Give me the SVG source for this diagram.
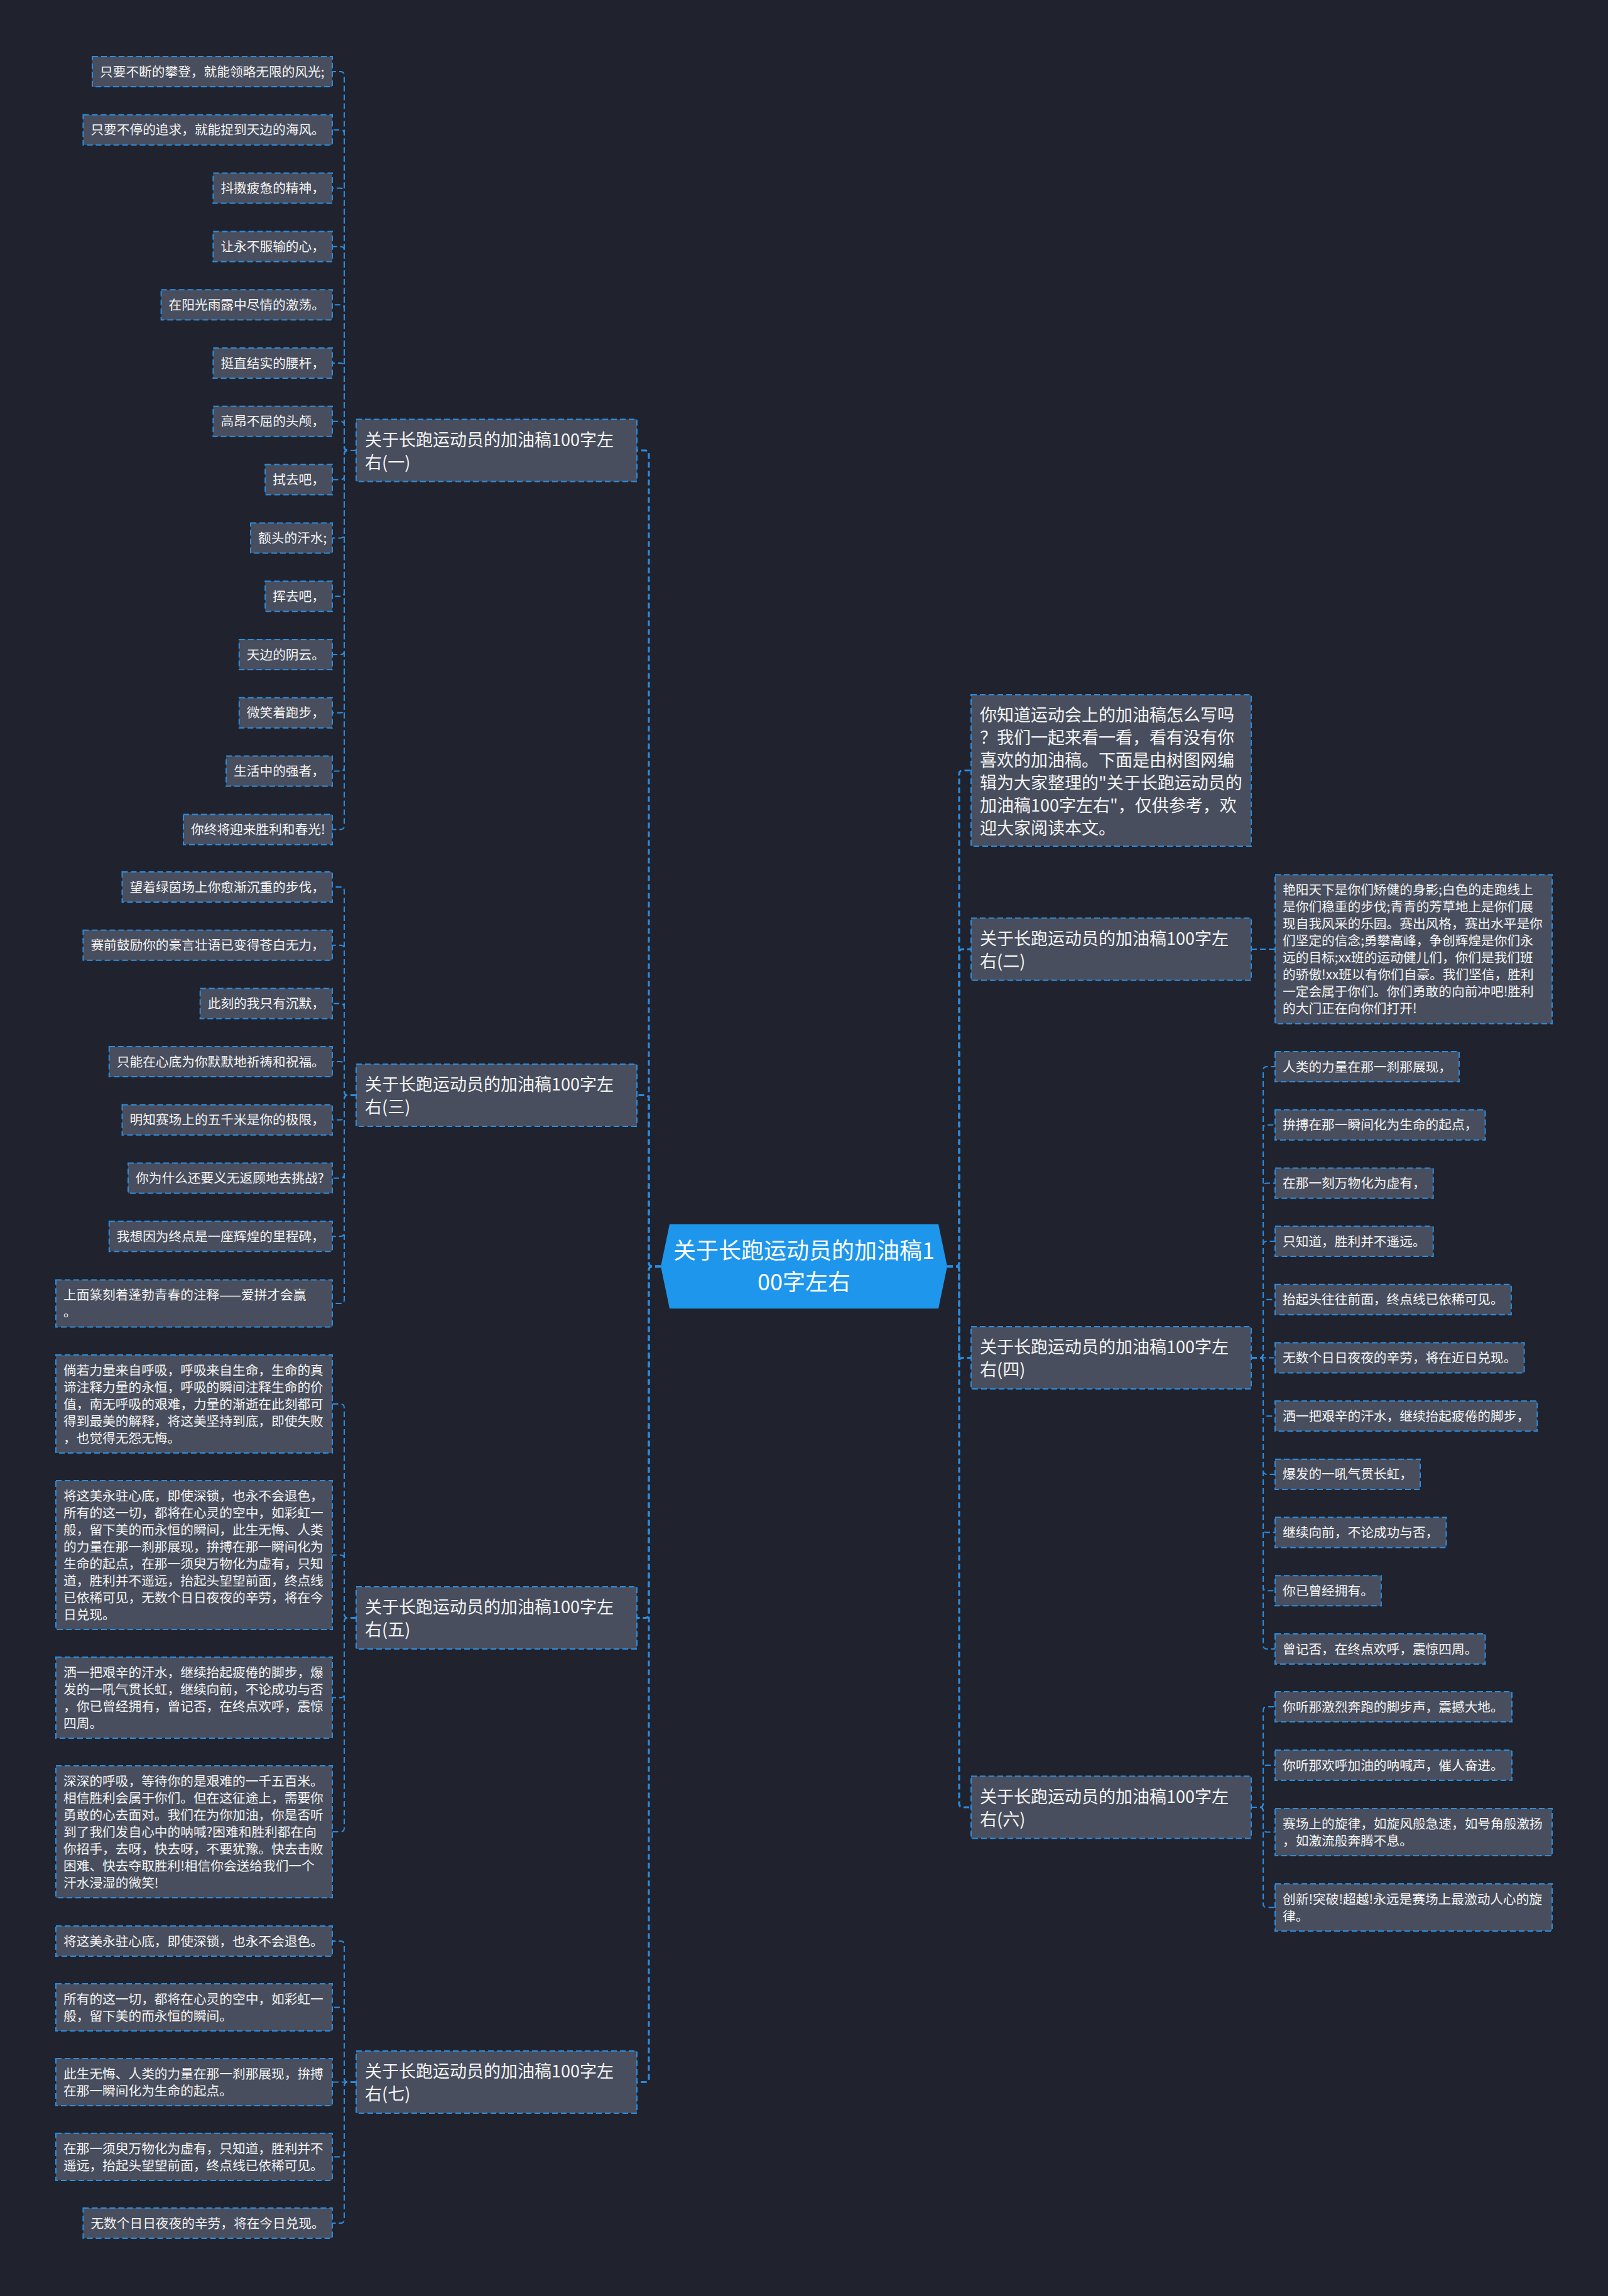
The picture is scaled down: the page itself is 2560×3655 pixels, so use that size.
<svg xmlns="http://www.w3.org/2000/svg" width="2560" height="3655" viewBox="0 0 2560 3655">
<style>
.bg{fill:#20232e}
.box{fill:#484e5d;stroke:#2b8de0;stroke-width:2;stroke-dasharray:9 5}
.lt{fill:#f4f4f4;font-family:'Noto Sans CJK SC','Noto Sans',sans-serif;font-size:20.7px}
.bt{fill:#f4f4f4;font-family:'Noto Sans CJK SC','Noto Sans',sans-serif;font-size:27px}
.rt{fill:#ffffff;font-family:'Noto Sans CJK SC','Noto Sans',sans-serif;font-size:36px;text-anchor:middle}
.c{fill:none;stroke:#2b8de0;stroke-width:2;stroke-dasharray:9 5}
.c0{fill:none;stroke:#2b8de0;stroke-width:3;stroke-dasharray:9 5}
</style>
<rect class="bg" x="0" y="0" width="2560" height="3655"/>
<g id="connectors">
<path class="c0" d="M1052 2016 H1039 Q1033 2016 1033 2010 V723 Q1033 717 1027 717 H1014"/>
<path class="c0" d="M1052 2016 H1039 Q1033 2016 1033 2010 V1749.5 Q1033 1743.5 1027 1743.5 H1014"/>
<path class="c0" d="M1052 2016 H1039 Q1033 2016 1033 2022 V2569.5 Q1033 2575.5 1027 2575.5 H1014"/>
<path class="c0" d="M1052 2016 H1039 Q1033 2016 1033 2022 V3308.5 Q1033 3314.5 1027 3314.5 H1014"/>
<path class="c0" d="M1508 2016 H1521 Q1527 2016 1527 2010 V1232.5 Q1527 1226.5 1533 1226.5 H1546"/>
<path class="c0" d="M1508 2016 H1521 Q1527 2016 1527 2010 V1517 Q1527 1511 1533 1511 H1546"/>
<path class="c0" d="M1508 2016 H1521 Q1527 2016 1527 2010 V2167.5 Q1527 2161.5 1533 2161.5 H1546"/>
<path class="c0" d="M1508 2016 H1521 Q1527 2016 1527 2022 V2871 Q1527 2877 1533 2877 H1546"/>
<path class="c" d="M567 717 H554 Q548 717 548 711 V120 Q548 114 542 114 H529"/>
<path class="c" d="M567 717 H554 Q548 717 548 711 V212.8 Q548 206.8 542 206.8 H529"/>
<path class="c" d="M567 717 H554 Q548 717 548 711 V305.6 Q548 299.6 542 299.6 H529"/>
<path class="c" d="M567 717 H554 Q548 717 548 711 V398.4 Q548 392.4 542 392.4 H529"/>
<path class="c" d="M567 717 H554 Q548 717 548 711 V491.2 Q548 485.2 542 485.2 H529"/>
<path class="c" d="M567 717 H554 Q548 717 548 711 V584 Q548 578 542 578 H529"/>
<path class="c" d="M567 717 H554 Q548 717 548 711 V676.8 Q548 670.8 542 670.8 H529"/>
<path class="c" d="M567 717 H554 Q548 717 548 723 V757.6 Q548 763.6 542 763.6 H529"/>
<path class="c" d="M567 717 H554 Q548 717 548 723 V850.4 Q548 856.4 542 856.4 H529"/>
<path class="c" d="M567 717 H554 Q548 717 548 723 V943.2 Q548 949.2 542 949.2 H529"/>
<path class="c" d="M567 717 H554 Q548 717 548 723 V1036 Q548 1042 542 1042 H529"/>
<path class="c" d="M567 717 H554 Q548 717 548 723 V1128.8 Q548 1134.8 542 1134.8 H529"/>
<path class="c" d="M567 717 H554 Q548 717 548 723 V1221.6 Q548 1227.6 542 1227.6 H529"/>
<path class="c" d="M567 717 H554 Q548 717 548 723 V1314.4 Q548 1320.4 542 1320.4 H529"/>
<path class="c" d="M567 1743.5 H554 Q548 1743.5 548 1737.5 V1418 Q548 1412 542 1412 H529"/>
<path class="c" d="M567 1743.5 H554 Q548 1743.5 548 1737.5 V1510.7 Q548 1504.7 542 1504.7 H529"/>
<path class="c" d="M567 1743.5 H554 Q548 1743.5 548 1737.5 V1603.4 Q548 1597.4 542 1597.4 H529"/>
<path class="c" d="M567 1743.5 H554 Q548 1743.5 548 1737.5 V1696.1 Q548 1690.1 542 1690.1 H529"/>
<path class="c" d="M567 1743.5 H554 Q548 1743.5 548 1749.5 V1776.8 Q548 1782.8 542 1782.8 H529"/>
<path class="c" d="M567 1743.5 H554 Q548 1743.5 548 1749.5 V1869.5 Q548 1875.5 542 1875.5 H529"/>
<path class="c" d="M567 1743.5 H554 Q548 1743.5 548 1749.5 V1962.2 Q548 1968.2 542 1968.2 H529"/>
<path class="c" d="M567 1743.5 H554 Q548 1743.5 548 1749.5 V2069 Q548 2075 542 2075 H529"/>
<path class="c" d="M567 2575.5 H554 Q548 2575.5 548 2569.5 V2241 Q548 2235 542 2235 H529"/>
<path class="c" d="M567 2575.5 H554 Q548 2575.5 548 2569.5 V2481.5 Q548 2475.5 542 2475.5 H529"/>
<path class="c" d="M567 2575.5 H554 Q548 2575.5 548 2581.5 V2696.5 Q548 2702.5 542 2702.5 H529"/>
<path class="c" d="M567 2575.5 H554 Q548 2575.5 548 2581.5 V2910 Q548 2916 542 2916 H529"/>
<path class="c" d="M567 3314.5 H554 Q548 3314.5 548 3308.5 V3096 Q548 3090 542 3090 H529"/>
<path class="c" d="M567 3314.5 H554 Q548 3314.5 548 3308.5 V3201.5 Q548 3195.5 542 3195.5 H529"/>
<path class="c" d="M567 3314.5 H529"/>
<path class="c" d="M567 3314.5 H554 Q548 3314.5 548 3320.5 V3427.5 Q548 3433.5 542 3433.5 H529"/>
<path class="c" d="M567 3314.5 H554 Q548 3314.5 548 3320.5 V3533 Q548 3539 542 3539 H529"/>
<path class="c" d="M1992 1511 H2030"/>
<path class="c" d="M1992 2161.5 H2005 Q2011 2161.5 2011 2155.5 V1704 Q2011 1698 2017 1698 H2030"/>
<path class="c" d="M1992 2161.5 H2005 Q2011 2161.5 2011 2155.5 V1796.7 Q2011 1790.7 2017 1790.7 H2030"/>
<path class="c" d="M1992 2161.5 H2005 Q2011 2161.5 2011 2155.5 V1889.4 Q2011 1883.4 2017 1883.4 H2030"/>
<path class="c" d="M1992 2161.5 H2005 Q2011 2161.5 2011 2155.5 V1982.1 Q2011 1976.1 2017 1976.1 H2030"/>
<path class="c" d="M1992 2161.5 H2005 Q2011 2161.5 2011 2155.5 V2074.8 Q2011 2068.8 2017 2068.8 H2030"/>
<path class="c" d="M1992 2161.5 H2030"/>
<path class="c" d="M1992 2161.5 H2005 Q2011 2161.5 2011 2167.5 V2248.2 Q2011 2254.2 2017 2254.2 H2030"/>
<path class="c" d="M1992 2161.5 H2005 Q2011 2161.5 2011 2167.5 V2340.9 Q2011 2346.9 2017 2346.9 H2030"/>
<path class="c" d="M1992 2161.5 H2005 Q2011 2161.5 2011 2167.5 V2433.6 Q2011 2439.6 2017 2439.6 H2030"/>
<path class="c" d="M1992 2161.5 H2005 Q2011 2161.5 2011 2167.5 V2526.3 Q2011 2532.3 2017 2532.3 H2030"/>
<path class="c" d="M1992 2161.5 H2005 Q2011 2161.5 2011 2167.5 V2619 Q2011 2625 2017 2625 H2030"/>
<path class="c" d="M1992 2877 H2005 Q2011 2877 2011 2871 V2723 Q2011 2717 2017 2717 H2030"/>
<path class="c" d="M1992 2877 H2005 Q2011 2877 2011 2871 V2816 Q2011 2810 2017 2810 H2030"/>
<path class="c" d="M1992 2877 H2005 Q2011 2877 2011 2883 V2910.5 Q2011 2916.5 2017 2916.5 H2030"/>
<path class="c" d="M1992 2877 H2005 Q2011 2877 2011 2883 V3030.5 Q2011 3036.5 2017 3036.5 H2030"/>
</g>
<g id="root">
<polygon points="1066,1949 1494,1949 1508,2016 1494,2083 1066,2083 1052,2016" fill="#1e96eb"/>
<text class="rt"><tspan x="1280" y="2004">关于长跑运动员的加油稿1</tspan><tspan x="1280" y="2054">00字左右</tspan></text>
</g>
<g id="b1">
<rect class="box" x="567" y="667.5" width="447" height="99"/>
<text class="bt"><tspan x="581" y="709.5">关于长跑运动员的加油稿100字左</tspan><tspan x="581" y="745.5">右(一)</tspan></text>
</g>
<g id="b3">
<rect class="box" x="567" y="1694" width="447" height="99"/>
<text class="bt"><tspan x="581" y="1736">关于长跑运动员的加油稿100字左</tspan><tspan x="581" y="1772">右(三)</tspan></text>
</g>
<g id="b5">
<rect class="box" x="567" y="2526" width="447" height="99"/>
<text class="bt"><tspan x="581" y="2568">关于长跑运动员的加油稿100字左</tspan><tspan x="581" y="2604">右(五)</tspan></text>
</g>
<g id="b7">
<rect class="box" x="567" y="3265" width="447" height="99"/>
<text class="bt"><tspan x="581" y="3307">关于长跑运动员的加油稿100字左</tspan><tspan x="581" y="3343">右(七)</tspan></text>
</g>
<g id="intro">
<rect class="box" x="1546" y="1106" width="446" height="241"/>
<text class="bt"><tspan x="1560" y="1148">你知道运动会上的加油稿怎么写吗</tspan><tspan x="1560" y="1184">？我们一起来看一看，看有没有你</tspan><tspan x="1560" y="1220">喜欢的加油稿。下面是由树图网编</tspan><tspan x="1560" y="1256">辑为大家整理的"关于长跑运动员的</tspan><tspan x="1560" y="1292">加油稿100字左右"，仅供参考，欢</tspan><tspan x="1560" y="1328">迎大家阅读本文。</tspan></text>
</g>
<g id="b2">
<rect class="box" x="1546" y="1461.5" width="446" height="99"/>
<text class="bt"><tspan x="1560" y="1503.5">关于长跑运动员的加油稿100字左</tspan><tspan x="1560" y="1539.5">右(二)</tspan></text>
</g>
<g id="b4">
<rect class="box" x="1546" y="2112" width="446" height="99"/>
<text class="bt"><tspan x="1560" y="2154">关于长跑运动员的加油稿100字左</tspan><tspan x="1560" y="2190">右(四)</tspan></text>
</g>
<g id="b6">
<rect class="box" x="1546" y="2827.5" width="446" height="99"/>
<text class="bt"><tspan x="1560" y="2869.5">关于长跑运动员的加油稿100字左</tspan><tspan x="1560" y="2905.5">右(六)</tspan></text>
</g>
<g id="l1-1"><rect class="box" x="147" y="90" width="382" height="48"/><text class="lt" x="159" y="121.5">只要不断的攀登，就能领略无限的风光;</text></g>
<g id="l1-2"><rect class="box" x="132.4" y="182.8" width="396.6" height="48"/><text class="lt" x="144.4" y="214.3">只要不停的追求，就能捉到天边的海风。</text></g>
<g id="l1-3"><rect class="box" x="339.4" y="275.6" width="189.6" height="48"/><text class="lt" x="351.4" y="307.1">抖擞疲惫的精神，</text></g>
<g id="l1-4"><rect class="box" x="339.4" y="368.4" width="189.6" height="48"/><text class="lt" x="351.4" y="399.9">让永不服输的心，</text></g>
<g id="l1-5"><rect class="box" x="256.6" y="461.2" width="272.4" height="48"/><text class="lt" x="268.6" y="492.7">在阳光雨露中尽情的激荡。</text></g>
<g id="l1-6"><rect class="box" x="339.4" y="554" width="189.6" height="48"/><text class="lt" x="351.4" y="585.5">挺直结实的腰杆，</text></g>
<g id="l1-7"><rect class="box" x="339.4" y="646.8" width="189.6" height="48"/><text class="lt" x="351.4" y="678.3">高昂不屈的头颅，</text></g>
<g id="l1-8"><rect class="box" x="422.2" y="739.6" width="106.8" height="48"/><text class="lt" x="434.2" y="771.1">拭去吧，</text></g>
<g id="l1-9"><rect class="box" x="399" y="832.4" width="130" height="48"/><text class="lt" x="411" y="863.9">额头的汗水;</text></g>
<g id="l1-10"><rect class="box" x="422.2" y="925.2" width="106.8" height="48"/><text class="lt" x="434.2" y="956.7">挥去吧，</text></g>
<g id="l1-11"><rect class="box" x="380.8" y="1018" width="148.2" height="48"/><text class="lt" x="392.8" y="1049.5">天边的阴云。</text></g>
<g id="l1-12"><rect class="box" x="380.8" y="1110.8" width="148.2" height="48"/><text class="lt" x="392.8" y="1142.3">微笑着跑步，</text></g>
<g id="l1-13"><rect class="box" x="360.1" y="1203.6" width="168.9" height="48"/><text class="lt" x="372.1" y="1235.1">生活中的强者，</text></g>
<g id="l1-14"><rect class="box" x="292" y="1296.4" width="237" height="48"/><text class="lt" x="304" y="1327.9">你终将迎来胜利和春光!</text></g>
<g id="l3-1"><rect class="box" x="194.5" y="1388" width="334.5" height="48"/><text class="lt" x="206.5" y="1419.5">望着绿茵场上你愈渐沉重的步伐，</text></g>
<g id="l3-2"><rect class="box" x="132.4" y="1480.7" width="396.6" height="48"/><text class="lt" x="144.4" y="1512.2">赛前鼓励你的豪言壮语已变得苍白无力，</text></g>
<g id="l3-3"><rect class="box" x="318.7" y="1573.4" width="210.3" height="48"/><text class="lt" x="330.7" y="1604.9">此刻的我只有沉默，</text></g>
<g id="l3-4"><rect class="box" x="173.8" y="1666.1" width="355.2" height="48"/><text class="lt" x="185.8" y="1697.6">只能在心底为你默默地祈祷和祝福。</text></g>
<g id="l3-5"><rect class="box" x="194.5" y="1758.8" width="334.5" height="48"/><text class="lt" x="206.5" y="1790.3">明知赛场上的五千米是你的极限，</text></g>
<g id="l3-6"><rect class="box" x="204" y="1851.5" width="325" height="48"/><text class="lt" x="216" y="1883">你为什么还要义无返顾地去挑战?</text></g>
<g id="l3-7"><rect class="box" x="173.8" y="1944.2" width="355.2" height="48"/><text class="lt" x="185.8" y="1975.7">我想因为终点是一座辉煌的里程碑，</text></g>
<g id="l3-8"><rect class="box" x="89" y="2037.5" width="440" height="75"/><text class="lt"><tspan x="101" y="2069">上面篆刻着蓬勃青春的注释——爱拼才会赢</tspan><tspan x="101" y="2096">。</tspan></text></g>
<g id="l5-1"><rect class="box" x="89" y="2157" width="440" height="156"/><text class="lt"><tspan x="101" y="2188.5">倘若力量来自呼吸，呼吸来自生命，生命的真</tspan><tspan x="101" y="2215.5">谛注释力量的永恒，呼吸的瞬间注释生命的价</tspan><tspan x="101" y="2242.5">值，南无呼吸的艰难，力量的渐逝在此刻都可</tspan><tspan x="101" y="2269.5">得到最美的解释，将这美坚持到底，即使失败</tspan><tspan x="101" y="2296.5">，也觉得无怨无悔。</tspan></text></g>
<g id="l5-2"><rect class="box" x="89" y="2357" width="440" height="237"/><text class="lt"><tspan x="101" y="2388.5">将这美永驻心底，即使深锁，也永不会退色，</tspan><tspan x="101" y="2415.5">所有的这一切，都将在心灵的空中，如彩虹一</tspan><tspan x="101" y="2442.5">般，留下美的而永恒的瞬间，此生无悔、人类</tspan><tspan x="101" y="2469.5">的力量在那一刹那展现，拚搏在那一瞬间化为</tspan><tspan x="101" y="2496.5">生命的起点，在那一须臾万物化为虚有，只知</tspan><tspan x="101" y="2523.5">道，胜利并不遥远，抬起头望望前面，终点线</tspan><tspan x="101" y="2550.5">已依稀可见，无数个日日夜夜的辛劳，将在今</tspan><tspan x="101" y="2577.5">日兑现。</tspan></text></g>
<g id="l5-3"><rect class="box" x="89" y="2638" width="440" height="129"/><text class="lt"><tspan x="101" y="2669.5">洒一把艰辛的汗水，继续抬起疲倦的脚步，爆</tspan><tspan x="101" y="2696.5">发的一吼气贯长虹，继续向前，不论成功与否</tspan><tspan x="101" y="2723.5">，你已曾经拥有，曾记否，在终点欢呼，震惊</tspan><tspan x="101" y="2750.5">四周。</tspan></text></g>
<g id="l5-4"><rect class="box" x="89" y="2811" width="440" height="210"/><text class="lt"><tspan x="101" y="2842.5">深深的呼吸，等待你的是艰难的一千五百米。</tspan><tspan x="101" y="2869.5">相信胜利会属于你们。但在这征途上，需要你</tspan><tspan x="101" y="2896.5">勇敢的心去面对。我们在为你加油，你是否听</tspan><tspan x="101" y="2923.5">到了我们发自心中的呐喊?困难和胜利都在向</tspan><tspan x="101" y="2950.5">你招手，去呀，快去呀，不要犹豫。快去击败</tspan><tspan x="101" y="2977.5">困难、快去夺取胜利!相信你会送给我们一个</tspan><tspan x="101" y="3004.5">汗水浸湿的微笑!</tspan></text></g>
<g id="l7-1"><rect class="box" x="89" y="3066" width="440" height="48"/><text class="lt" x="101" y="3097.5">将这美永驻心底，即使深锁，也永不会退色。</text></g>
<g id="l7-2"><rect class="box" x="89" y="3158" width="440" height="75"/><text class="lt"><tspan x="101" y="3189.5">所有的这一切，都将在心灵的空中，如彩虹一</tspan><tspan x="101" y="3216.5">般，留下美的而永恒的瞬间。</tspan></text></g>
<g id="l7-3"><rect class="box" x="89" y="3277" width="440" height="75"/><text class="lt"><tspan x="101" y="3308.5">此生无悔、人类的力量在那一刹那展现，拚搏</tspan><tspan x="101" y="3335.5">在那一瞬间化为生命的起点。</tspan></text></g>
<g id="l7-4"><rect class="box" x="89" y="3396" width="440" height="75"/><text class="lt"><tspan x="101" y="3427.5">在那一须臾万物化为虚有，只知道，胜利并不</tspan><tspan x="101" y="3454.5">遥远，抬起头望望前面，终点线已依稀可见。</tspan></text></g>
<g id="l7-5"><rect class="box" x="132.4" y="3515" width="396.6" height="48"/><text class="lt" x="144.4" y="3546.5">无数个日日夜夜的辛劳，将在今日兑现。</text></g>
<g id="r2-1"><rect class="box" x="2030" y="1392.5" width="441" height="237"/><text class="lt"><tspan x="2042" y="1424">艳阳天下是你们矫健的身影;白色的走跑线上</tspan><tspan x="2042" y="1451">是你们稳重的步伐;青青的芳草地上是你们展</tspan><tspan x="2042" y="1478">现自我风采的乐园。赛出风格，赛出水平是你</tspan><tspan x="2042" y="1505">们坚定的信念;勇攀高峰，争创辉煌是你们永</tspan><tspan x="2042" y="1532">远的目标;xx班的运动健儿们，你们是我们班</tspan><tspan x="2042" y="1559">的骄傲!xx班以有你们自豪。我们坚信，胜利</tspan><tspan x="2042" y="1586">一定会属于你们。你们勇敢的向前冲吧!胜利</tspan><tspan x="2042" y="1613">的大门正在向你们打开!</tspan></text></g>
<g id="r4-1"><rect class="box" x="2030" y="1674" width="293" height="48"/><text class="lt" x="2042" y="1705.5">人类的力量在那一刹那展现，</text></g>
<g id="r4-2"><rect class="box" x="2030" y="1766.7" width="334.5" height="48"/><text class="lt" x="2042" y="1798.2">拚搏在那一瞬间化为生命的起点，</text></g>
<g id="r4-3"><rect class="box" x="2030" y="1859.4" width="251.7" height="48"/><text class="lt" x="2042" y="1890.9">在那一刻万物化为虚有，</text></g>
<g id="r4-4"><rect class="box" x="2030" y="1952.1" width="251.7" height="48"/><text class="lt" x="2042" y="1983.6">只知道，胜利并不遥远。</text></g>
<g id="r4-5"><rect class="box" x="2030" y="2044.8" width="375.9" height="48"/><text class="lt" x="2042" y="2076.3">抬起头往往前面，终点线已依稀可见。</text></g>
<g id="r4-6"><rect class="box" x="2030" y="2137.5" width="396.6" height="48"/><text class="lt" x="2042" y="2169">无数个日日夜夜的辛劳，将在近日兑现。</text></g>
<g id="r4-7"><rect class="box" x="2030" y="2230.2" width="417.3" height="48"/><text class="lt" x="2042" y="2261.7">洒一把艰辛的汗水，继续抬起疲倦的脚步，</text></g>
<g id="r4-8"><rect class="box" x="2030" y="2322.9" width="231" height="48"/><text class="lt" x="2042" y="2354.4">爆发的一吼气贯长虹，</text></g>
<g id="r4-9"><rect class="box" x="2030" y="2415.6" width="272.4" height="48"/><text class="lt" x="2042" y="2447.1">继续向前，不论成功与否，</text></g>
<g id="r4-10"><rect class="box" x="2030" y="2508.3" width="168.9" height="48"/><text class="lt" x="2042" y="2539.8">你已曾经拥有。</text></g>
<g id="r4-11"><rect class="box" x="2030" y="2601" width="334.5" height="48"/><text class="lt" x="2042" y="2632.5">曾记否，在终点欢呼，震惊四周。</text></g>
<g id="r6-1"><rect class="box" x="2030" y="2693" width="377" height="48"/><text class="lt" x="2042" y="2724.5">你听那激烈奔跑的脚步声，震撼大地。</text></g>
<g id="r6-2"><rect class="box" x="2030" y="2786" width="377" height="48"/><text class="lt" x="2042" y="2817.5">你听那欢呼加油的呐喊声，催人奋进。</text></g>
<g id="r6-3"><rect class="box" x="2030" y="2879" width="441" height="75"/><text class="lt"><tspan x="2042" y="2910.5">赛场上的旋律，如旋风般急速，如号角般激扬</tspan><tspan x="2042" y="2937.5">，如激流般奔腾不息。</tspan></text></g>
<g id="r6-4"><rect class="box" x="2030" y="2999" width="441" height="75"/><text class="lt"><tspan x="2042" y="3030.5">创新!突破!超越!永远是赛场上最激动人心的旋</tspan><tspan x="2042" y="3057.5">律。</tspan></text></g>
</svg>
